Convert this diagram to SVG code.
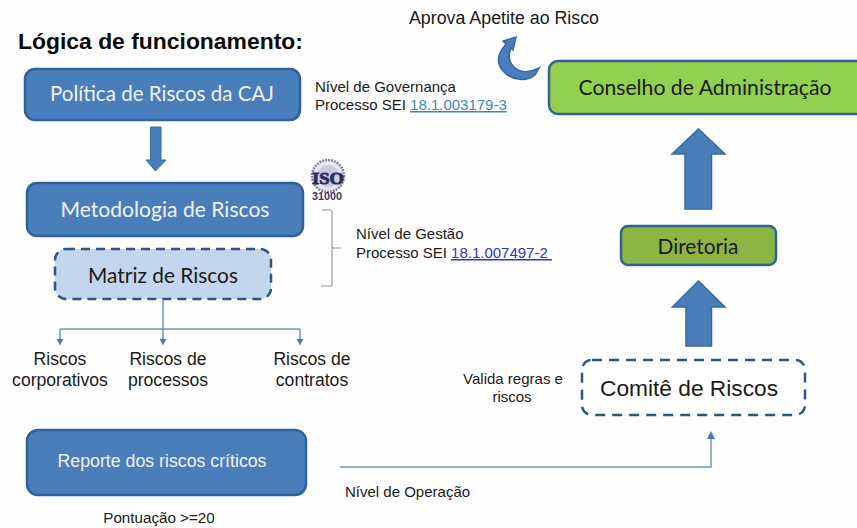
<svg xmlns="http://www.w3.org/2000/svg" width="857" height="528" viewBox="0 0 857 528">
<defs>
<marker id="ah" markerWidth="7" markerHeight="7" refX="3.5" refY="3.5" orient="auto" markerUnits="userSpaceOnUse"><path d="M0,0L7,3.5L0,7Z" fill="#4a78b5"/></marker>
</defs>
<style>
text{font-family:"Liberation Sans",Arial,sans-serif;fill:#1a1a1a}
.box{fill:#4a7ebb;stroke:#2f6297;stroke-width:2.5}
.cal{font-family:Lato,"Open Sans",sans-serif;font-size:22px;text-anchor:middle}
.w{fill:#eef3fa}
.s{font-size:15px}
.m{font-size:17.6px;text-anchor:middle}
.lnk{text-decoration:underline}
.big{fill:#4a7ebb;stroke:#336a9f;stroke-width:1.5}
.thin{fill:none;stroke:#6f97c6;stroke-width:1.5}
</style>
<rect width="857" height="528" fill="#fefefe"/>
<text x="18" y="49" font-size="22.9" font-weight="700" style="fill:#0a0a0a">Lógica de funcionamento:</text>
<text x="409" y="24" font-size="17.5" textLength="190" lengthAdjust="spacingAndGlyphs">Aprova Apetite ao Risco</text>

<g id="node-politica"><rect class="box" x="25" y="69" width="275" height="51" rx="10"/><text class="cal w" x="162" y="101" textLength="224" lengthAdjust="spacingAndGlyphs">Política de Riscos da CAJ</text></g>
<g id="node-metodologia"><rect class="box" x="27" y="183" width="276" height="53" rx="10"/><text class="cal w" x="165" y="217" textLength="209" lengthAdjust="spacingAndGlyphs">Metodologia de Riscos</text></g>
<g id="node-matriz"><rect x="55" y="249" width="216" height="50" rx="11" fill="#c3d6ee" stroke="#2f5582" stroke-width="2.5" stroke-dasharray="9 6"/><text class="cal" x="163" y="283" textLength="150" lengthAdjust="spacingAndGlyphs">Matriz de Riscos</text></g>
<g id="node-reporte"><rect class="box" x="27" y="430" width="279" height="65" rx="11"/><text class="w" x="162" y="467" font-size="17.5" text-anchor="middle" textLength="209" lengthAdjust="spacingAndGlyphs">Reporte dos riscos críticos</text></g>
<g id="node-conselho"><rect x="549" y="61" width="320" height="53" rx="9" fill="#92d050" stroke="#2f6297" stroke-width="2.5"/><text class="cal" x="705" y="95" textLength="253" lengthAdjust="spacingAndGlyphs">Conselho de Administração</text></g>
<g id="node-diretoria"><rect x="621" y="226" width="155" height="39" rx="7" fill="#8cb543" stroke="#2f6297" stroke-width="2.5"/><text class="cal" x="698" y="254" font-size="21" textLength="81" lengthAdjust="spacingAndGlyphs">Diretoria</text></g>
<g id="node-comite"><rect x="582" y="360" width="223" height="55" rx="10" fill="#fff" stroke="#2f5582" stroke-width="2.5" stroke-dasharray="10 7"/><text x="689" y="396" font-size="22" text-anchor="middle" textLength="178" lengthAdjust="spacingAndGlyphs">Comitê de Riscos</text></g>

<g id="node-iso">
<circle cx="328" cy="176" r="16" fill="#e6e7ef" stroke="#85859c" stroke-width="2.5" stroke-dasharray="2 1"/>
<circle cx="328" cy="176" r="11" fill="#c9cadb"/>
<text x="328" y="184" font-size="16" font-weight="700" text-anchor="middle" stroke="#2b2a63" stroke-width="0.8" style="font-family:'Liberation Serif',serif;fill:#2b2a63" textLength="32" lengthAdjust="spacingAndGlyphs">ISO</text>
<text x="327" y="199.500" font-size="10.500" font-weight="700" text-anchor="middle" style="fill:#3a3a58" textLength="30" lengthAdjust="spacingAndGlyphs">31000</text>
</g>

<g id="labels">
<text class="s" x="315" y="92">Nível de Governança</text>
<text class="s" x="315" y="110">Processo SEI <tspan class="lnk" style="fill:#3f86c2">18.1.003179-3</tspan></text>
<text class="s" x="356" y="239">Nível de Gestão</text>
<text class="s" x="356" y="258" xml:space="preserve">Processo SEI <tspan class="lnk" style="fill:#2c35d0">18.1.007497-2 </tspan></text>
<text class="m" x="60" y="365">Riscos</text><text class="m" x="60" y="386">corporativos</text>
<text class="m" x="168" y="365">Riscos de</text><text class="m" x="168" y="386">processos</text>
<text class="m" x="312" y="365">Riscos de</text><text class="m" x="312" y="386">contratos</text>
<text class="s" x="513" y="384" text-anchor="middle">Valida regras e</text>
<text class="s" x="512" y="402" text-anchor="middle">riscos</text>
<text class="s" x="345" y="497">Nível de Operação</text>
<text x="159" y="523" font-size="15.2" text-anchor="middle">Pontuação &gt;=20</text>
</g>

<g id="connectors">
<path class="big" d="M150.500,127H161V160H166L155.500,171L146,160H150.500Z" style="stroke-width:1"/>
<path class="big" d="M685,209V154H672L698.500,129L725,154H711.500V209Z"/>
<path class="big" d="M686,346V307H672.500L698.500,281L725,307H711.500V346Z"/>
<path class="big" d="M539,68C530,73 520,73 514,67C509,62 508,55 511,48L513,50L516,37L503,41L506,44C499,52 495,62 503,71C512,81 527,82 535,75Z"/>
<path class="thin" d="M163,300V329M60,329H300"/>
<path class="thin" marker-end="url(#ah)" d="M60,329V342"/>
<path class="thin" marker-end="url(#ah)" d="M163,329V342"/>
<path class="thin" marker-end="url(#ah)" d="M300,329V342"/>
<path class="thin" d="M340,467H711V439"/>
<path d="M707,439L711,431L715,439Z" fill="#4a78b5"/>
<path d="M322,210H330Q332,210 332,212V246Q332,248 334,248H341H334Q332,248 332,250V284Q332,286 330,286H321" fill="none" stroke="#8f9aa6" stroke-width="1.200"/>
</g>
</svg>
